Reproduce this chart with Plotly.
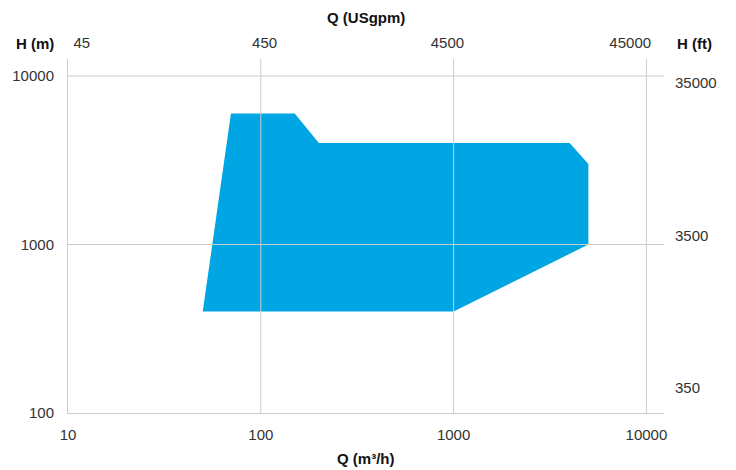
import math
import plotly.graph_objects as go

# Operating envelope (Q in m3/h, H in m)
flow_m3h = [50, 70, 150, 200, 4000, 5000, 5000, 1000, 50]
head_m = [400, 6000, 6000, 4000, 4000, 3000, 1000, 400, 400]

# Tick labels
x_ticks = [10, 100, 1000, 10000]
y_ticks = [100, 1000, 10000]
usgpm_ticks = [45, 450, 4500, 45000]
ft_ticks = [350, 3500, 35000]

X_RANGE = [1, 4.0913]
Y_RANGE = [2, 4.1009]
X2_RANGE = [1.578, 4.838]
Y2_RANGE = [2.380, 4.701]

GRID = "#cccccc"
FILL = "#00A5E3"
TXT = "#333333"
FONT = "Liberation Sans, Arial, sans-serif"

fig = go.Figure()

fig.add_trace(go.Scatter(
    x=flow_m3h, y=head_m, fill="toself", fillcolor=FILL,
    mode="lines", line=dict(width=0, color=FILL), hoverinfo="skip",
    showlegend=False))

# gridlines drawn above the fill
ylo, yhi = 10 ** Y_RANGE[0], 10 ** Y_RANGE[1]
xlo, xhi = 10 ** X_RANGE[0], 10 ** X_RANGE[1]
gx, gy = [], []
for v in x_ticks[1:]:
    gx += [v, v, None]
    gy += [ylo, yhi, None]
for v in y_ticks[1:]:
    gx += [xlo, xhi, None]
    gy += [v, v, None]
fig.add_trace(go.Scatter(x=gx, y=gy, mode="lines",
                         line=dict(color=GRID, width=1),
                         hoverinfo="skip", showlegend=False))

# invisible trace for secondary axes
fig.add_trace(go.Scatter(x=[usgpm_ticks[0], usgpm_ticks[-1]],
                         y=[ft_ticks[0], ft_ticks[-1]],
                         xaxis="x2", yaxis="y2", mode="markers",
                         marker=dict(opacity=0), hoverinfo="skip",
                         showlegend=False))

tickfont = dict(family=FONT, size=15, color=TXT)

fig.update_layout(
    width=728, height=462,
    margin=dict(l=60, r=72, t=51, b=57),
    paper_bgcolor="white", plot_bgcolor="white",
    xaxis=dict(type="log", range=X_RANGE, tickvals=x_ticks,
               ticktext=[str(v) for v in x_ticks], automargin=False,
               showgrid=False, zeroline=False, showline=True,
               linecolor=GRID, linewidth=1, ticks="outside", ticklen=8,
               tickcolor="rgba(0,0,0,0)", tickfont=tickfont),
    yaxis=dict(type="log", range=Y_RANGE, tickvals=y_ticks,
               ticktext=[str(v) for v in y_ticks], automargin=False,
               showgrid=False, zeroline=False, showline=True,
               linecolor=GRID, linewidth=1, ticks="outside", ticklen=10,
               tickcolor="rgba(0,0,0,0)", tickfont=tickfont),
    xaxis2=dict(type="log", range=X2_RANGE, overlaying="x", side="top",
                tickvals=usgpm_ticks, ticktext=[str(v) for v in usgpm_ticks],
                automargin=False,
                showgrid=False, zeroline=False, showline=False,
                ticks="outside", ticklen=4, tickcolor="rgba(0,0,0,0)",
                tickfont=tickfont),
    yaxis2=dict(type="log", range=Y2_RANGE, overlaying="y", side="right",
                tickvals=ft_ticks, ticktext=[str(v) for v in ft_ticks],
                automargin=False,
                showgrid=False, zeroline=False, showline=False,
                ticks="outside", ticklen=7, tickcolor="rgba(0,0,0,0)",
                tickfont=tickfont),
)

title_font = dict(family=FONT, size=15, color="#111111")
fig.add_annotation(text="<b>Q (USgpm)</b>", xref="paper", yref="paper",
                   x=0.5, y=1, yshift=42, yanchor="middle",
                   showarrow=False, font=title_font)
fig.add_annotation(text="<b>Q (m³/h)</b>", xref="paper", yref="paper",
                   x=0.5, y=0, yshift=-45, yanchor="middle",
                   showarrow=False, font=title_font)
fig.add_annotation(text="<b>H (m)</b>", xref="paper", yref="paper",
                   x=0, y=1, xshift=-12, yshift=16, xanchor="right",
                   yanchor="middle", showarrow=False, font=title_font)
fig.add_annotation(text="<b>H (ft)</b>", xref="paper", yref="paper",
                   x=1, y=1, xshift=11, yshift=16, xanchor="left",
                   yanchor="middle", showarrow=False, font=title_font)

fig.write_html("out.html")
